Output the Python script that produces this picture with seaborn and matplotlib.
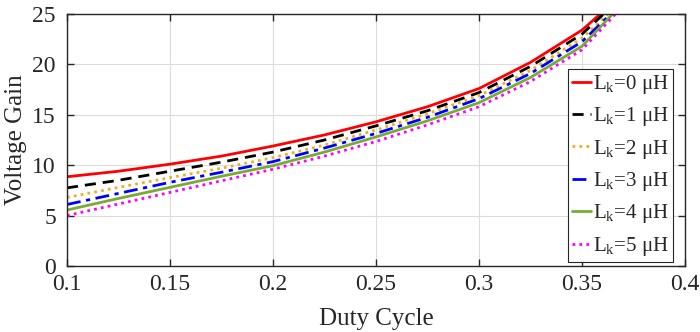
import numpy as np
import pandas as pd
import seaborn as sns
import matplotlib.pyplot as plt

duty = [0.1, 0.125, 0.15, 0.175, 0.2, 0.225, 0.25, 0.275, 0.3, 0.325, 0.35, 0.37]

gain_lk0 = [8.85, 9.4, 10.1, 10.9, 11.9, 13.0, 14.3, 15.8, 17.6, 20.2, 23.4, 27.0]
gain_lk1 = [7.75, 8.5, 9.4, 10.3, 11.3, 12.5, 13.9, 15.4, 17.2, 19.8, 23.0, 26.8]
gain_lk2 = [6.8, 7.8, 8.76, 9.7, 10.75, 12.0, 13.5, 15.1, 16.9, 19.4, 22.6, 26.4]
gain_lk3 = [6.1, 7.2, 8.3, 9.3, 10.35, 11.7, 13.15, 14.75, 16.6, 19.1, 22.25, 26.2]
gain_lk4 = [5.55, 6.7, 7.8, 8.9, 9.95, 11.3, 12.8, 14.4, 16.2, 18.7, 21.8, 26.1]
gain_lk5 = [5.0, 6.15, 7.3, 8.45, 9.6, 10.9, 12.35, 14.0, 15.8, 18.3, 21.45, 25.8]

labels = [r'L$_\mathregular{k}$=0 μH', r'L$_\mathregular{k}$=1 μH', r'L$_\mathregular{k}$=2 μH',
          r'L$_\mathregular{k}$=3 μH', r'L$_\mathregular{k}$=4 μH', r'L$_\mathregular{k}$=5 μH']
series = [gain_lk0, gain_lk1, gain_lk2, gain_lk3, gain_lk4, gain_lk5]
colors = ['#FF0000', '#000000', '#EDB120', '#0000FF', '#77AC30', '#FF00FF']
styles = ['-', (0, (4, 2.5)), (0, (1, 1.5)), (0, (5, 2, 1.5, 2)), '-', (0, (1, 1.5))]

sns.set_style('ticks')
plt.rcParams['font.family'] = ['Liberation Serif', 'DejaVu Serif']
plt.rcParams['mathtext.fontset'] = 'custom'
plt.rcParams['mathtext.rm'] = 'Liberation Serif'
plt.rcParams['axes.edgecolor'] = '#262626'
plt.rcParams['xtick.color'] = '#262626'
plt.rcParams['ytick.color'] = '#262626'

fig = plt.figure(figsize=(7, 3.32), dpi=100)
ax = fig.add_axes([0.0957, 0.1988, 0.8829, 0.7592])

for vals, lab, c, ls in zip(series, labels, colors, styles):
    df = pd.DataFrame({'Duty Cycle': duty, 'Voltage Gain': vals})
    sns.lineplot(data=df, x='Duty Cycle', y='Voltage Gain', ax=ax, color=c,
                 linestyle=ls, linewidth=2, label=lab)

ax.set_xlim(0.1, 0.4)
ax.set_ylim(0, 25)
ax.set_xticks([0.1, 0.15, 0.2, 0.25, 0.3, 0.35, 0.4])
ax.set_xticklabels(['0.1', '0.15', '0.2', '0.25', '0.3', '0.35', '0.4'])
ax.set_yticks([0, 5, 10, 15, 20, 25])
ax.grid(True, color='#dcdcdc', linewidth=0.8)
ax.tick_params(direction='in', top=True, right=True, labelsize=17, length=5, width=1)
ax.tick_params(axis='x', pad=6)
ax.tick_params(axis='y', pad=8)
ax.set_xlabel('Duty Cycle', fontsize=18, labelpad=9)
ax.set_ylabel('Voltage Gain', fontsize=18, labelpad=4)
for sp in ax.spines.values():
    sp.set_linewidth(1)

leg = ax.legend(loc='lower right', bbox_to_anchor=(0.981, 0.016), borderaxespad=0,
                fontsize=15, handlelength=0.9, handletextpad=0.1, labelspacing=0.45,
                fancybox=False, framealpha=1, edgecolor='#262626', borderpad=0.2)
leg.get_frame().set_linewidth(0.8)

fig.savefig('out.png', dpi=100)
